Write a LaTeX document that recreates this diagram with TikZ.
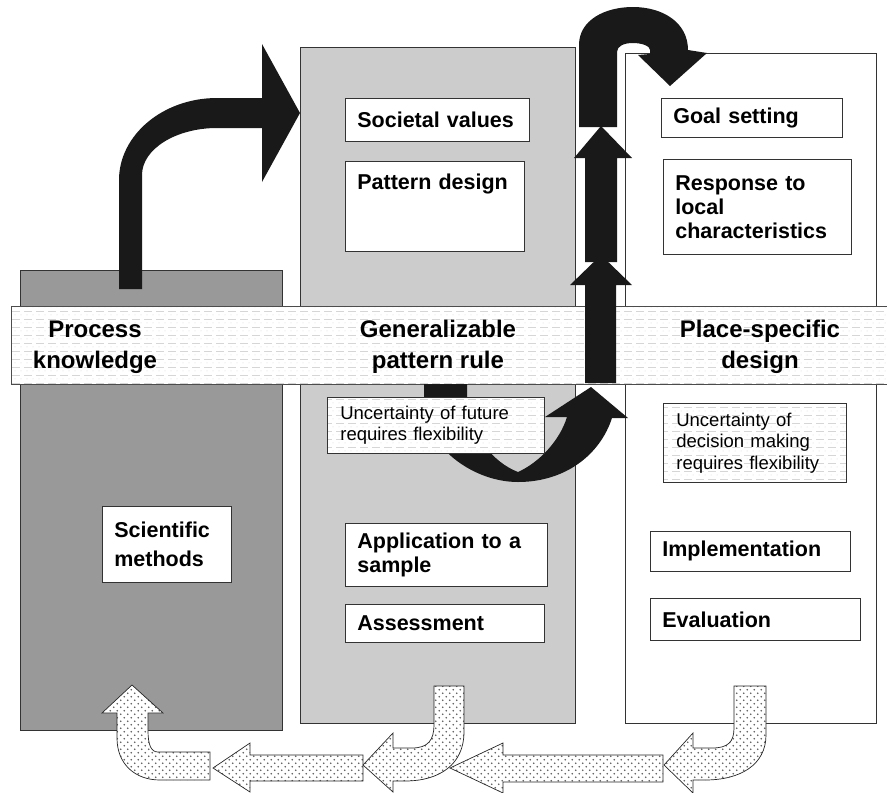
\documentclass[tikz,border=0pt]{standalone}
\usepackage{fontspec}
\setmainfont{Liberation Sans}
\usetikzlibrary{patterns}

\pgfdeclarepatternformonly{dotfill}{\pgfpoint{-1pt}{-1pt}}{\pgfpoint{8pt}{8pt}}{\pgfpoint{7pt}{7pt}}{%
  \pgfpathcircle{\pgfpoint{1.75pt}{1.75pt}}{0.95pt}%
  \pgfpathcircle{\pgfpoint{5.25pt}{5.25pt}}{0.95pt}%
  \pgfusepath{fill}}
\pgfdeclarepatternformonly{dashfill}{\pgfpoint{-1pt}{-1pt}}{\pgfpoint{13pt}{9pt}}{\pgfpoint{12pt}{8pt}}{%
  \pgfsetlinewidth{0.9pt}%
  \pgfpathmoveto{\pgfpoint{0pt}{2pt}}\pgfpathlineto{\pgfpoint{8pt}{2pt}}\pgfusepath{stroke}%
  \pgfpathcircle{\pgfpoint{3pt}{6pt}}{0.5pt}\pgfpathcircle{\pgfpoint{9pt}{6pt}}{0.5pt}\pgfusepath{fill}}

\tikzset{
  panel/.style={draw=black!80, line width=0.7pt},
  blockarrow/.style={fill=black!90},
  dotarrow/.style={draw=black!85, line width=0.7pt, preaction={fill=white}, pattern=dotfill, pattern color=black!65},
  band/.style={draw=black!70, line width=0.7pt, preaction={fill=white}, pattern=dashfill, pattern color=black!16},
  stepbox/.style={draw=black!80, line width=0.7pt, fill=white, anchor=north west, inner xsep=12pt, inner ysep=0pt, align=left,
    font=\fontsize{21.5}{24}\selectfont\bfseries},
  uncbox/.style={draw=black!80, line width=0.7pt, preaction={fill=white}, pattern=dashfill, pattern color=black!16,
    anchor=north west, inner xsep=13pt, inner ysep=0pt, align=left, font=\fontsize{18.5}{21.5}\selectfont},
  bandlabel/.style={align=center, font=\fontsize{24}{31}\selectfont\bfseries}
}

\begin{document}
\begin{tikzpicture}[x=1pt,y=1pt,yscale=-1]
\useasboundingbox (0,0) rectangle (887,793);

%Shape: columns
\draw[panel, fill=black!40] (20,270) rectangle (282,730);
\draw[panel, fill=black!20] (300,47) rectangle (575,723);
\draw[panel, fill=white] (625,53) rectangle (876,723);

%Shape: bent arrow out of process knowledge
\fill[blockarrow] (119,289) -- (119,180) .. controls (119,135) and (163,98) .. (217,98) -- (262,98) -- (262,44) -- (300,113)
  -- (262,182) -- (262,128) -- (217,128) .. controls (176,128) and (142,149) .. (142,175) -- (142,289) -- cycle;

%Shape: band
\draw[band] (11,306) rectangle (892,384);

%Shape: stacked up arrows
\fill[blockarrow] (585,383) -- (585,285) -- (570,285) -- (601,255) -- (632,285) -- (616,285) -- (616,383) -- cycle;
\fill[blockarrow] (585,262) -- (585,158) -- (574,158) -- (601,126) -- (632,158) -- (617,158) -- (617,262) -- cycle;
\fill[blockarrow] (579,127) -- (579,45) .. controls (579,20) and (605,7) .. (633,7) .. controls (662,7) and (688,22) .. (688,50)
  -- (707,53) -- (670,86) -- (638,55) -- (650,54) -- (650,50) .. controls (650,46) and (642,43) .. (633,43)
  .. controls (624,43) and (617,46) .. (617,52) -- (617,127) -- cycle;

%Shape: curved arrow below band
\fill[blockarrow] (424,384) -- (467,384) -- (467,400) .. controls (472,435) and (492,462) .. (518,472)
  .. controls (540,462) and (560,440) .. (567,417) -- (545,417) -- (591,387) -- (628,418) -- (612,418)
  .. controls (600,455) and (565,482) .. (518,482) .. controls (475,482) and (430,450) .. (424,410) -- cycle;

%Shape: dotted arrows
\draw[dotarrow] (210,752) -- (158,752) .. controls (151,752) and (148,745) .. (148,730) -- (148,713) -- (163,713) -- (132,685)
  -- (102,713) -- (117,713) -- (117,738) .. controls (117,764) and (135,780) .. (160,780) -- (210,780) -- cycle;
\draw[dotarrow] (363,755) -- (250,755) -- (250,743) -- (213,768) -- (250,792) -- (250,781) -- (363,781) -- cycle;
\draw[dotarrow] (434,686) -- (464,686) -- (464,732) .. controls (464,764) and (440,781) .. (405,781) -- (393,781) -- (393,792)
  -- (363,765) -- (393,733) -- (393,748) -- (412,748) .. controls (428,748) and (434,740) .. (434,725) -- cycle;
\draw[dotarrow] (663,755) -- (503,755) -- (503,743) -- (450,768) -- (503,793) -- (503,782) -- (663,782) -- cycle;
\draw[dotarrow] (734,686) -- (766,686) -- (766,735) .. controls (766,765) and (740,780) .. (705,780) -- (693,780) -- (693,793)
  -- (664,765) -- (693,733) -- (693,748) -- (712,748) .. controls (728,748) and (734,742) .. (734,728) -- cycle;

% Text Node
\node[bandlabel] (process) at (95,347) {Process\\knowledge};
% Text Node
\node[bandlabel] (general) at (438,347) {Generalizable\\pattern rule};
% Text Node
\node[bandlabel] (place) at (760,347) {Place-specific\\design};

% Text Node
\node[stepbox, text width=160, minimum height=43] (societal) at (345,98) {Societal values};
% Text Node
\node[stepbox, text width=155, minimum height=90, text depth=50pt] (pattern) at (345,161) {Pattern design};
% Text Node
\node[stepbox, text width=157, minimum height=39] (goal) at (661,98) {Goal setting};
% Text Node
\node[stepbox, text width=164, minimum height=95] (response) at (663,159) {Response to\\local\\characteristics};
% Text Node
\node[uncbox, text width=191, minimum height=56] (futureunc) at (327,397) {Uncertainty of future\\requires flexibility};
% Text Node
\node[uncbox, text width=157, minimum height=79] (decisionunc) at (663,403) {Uncertainty of\\decision making\\requires flexibility};
% Text Node
\node[stepbox, text width=105, minimum height=76, font=\fontsize{21.5}{29}\selectfont\bfseries] (science) at (102,506) {Scientific\\methods};
% Text Node
\node[stepbox, text width=178, minimum height=63] (application) at (345,523) {Application to a\\sample};
% Text Node
\node[stepbox, text width=175, minimum height=38] (assessment) at (345,604) {Assessment};
% Text Node
\node[stepbox, text width=176, minimum height=40] (implementation) at (650,531) {Implementation};
% Text Node
\node[stepbox, text width=186, minimum height=42] (evaluation) at (650,598) {Evaluation};

\end{tikzpicture}
\end{document}
